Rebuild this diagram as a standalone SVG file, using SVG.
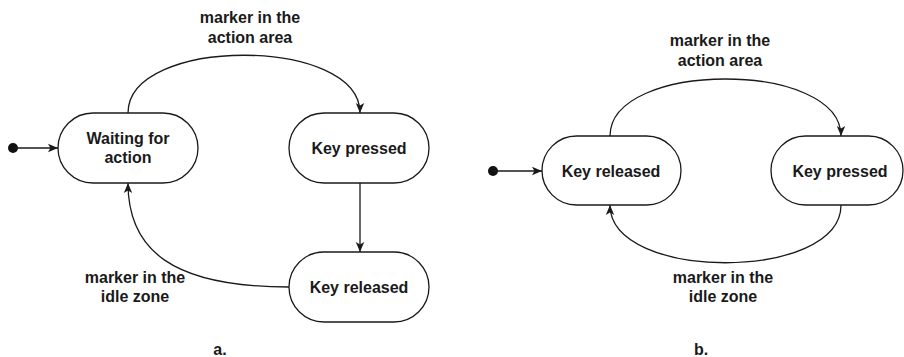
<svg xmlns="http://www.w3.org/2000/svg" width="904" height="357" viewBox="0 0 904 357">
  <defs>
    <style>
      .node rect { fill: #ffffff; stroke: #1a1a1a; stroke-width: 1.3; }
      .node text, .label, .caption { font-family: "Liberation Sans", Arial, sans-serif; font-size: 16px; font-weight: bold; fill: #1a1a1a; text-anchor: middle; }
      .edge { fill: none; stroke: #1a1a1a; stroke-width: 1.3; marker-end: url(#arrow); }
      .start { fill: #111111; }
    </style>
    <marker id="arrow" viewBox="0 0 10 10" refX="10" refY="5" markerWidth="10" markerHeight="10" markerUnits="userSpaceOnUse" orient="auto">
      <path d="M0,0.8 L10,5 L0,9.2 L2.4,5 Z" fill="#1a1a1a"/>
    </marker>
  </defs>
  <rect width="904" height="357" fill="#ffffff"/>

  <!-- a. state machine -->
  <g id="a-start"><circle class="start" cx="13" cy="148" r="5"/></g>
  <g id="a-waiting" class="node">
    <rect x="58" y="113" width="140" height="70" rx="35" ry="35"/>
    <text x="128" y="144">Waiting for</text>
    <text x="128" y="163">action</text>
  </g>
  <g id="a-pressed" class="node">
    <rect x="289" y="113" width="140" height="70" rx="35" ry="35"/>
    <text x="359" y="154">Key pressed</text>
  </g>
  <g id="a-released" class="node">
    <rect x="289" y="252" width="140" height="70" rx="35" ry="35"/>
    <text x="359" y="293">Key released</text>
  </g>

  <!-- b. state machine -->
  <g id="b-start"><circle class="start" cx="493" cy="171" r="5"/></g>
  <g id="b-released" class="node">
    <rect x="542" y="136" width="139" height="69" rx="34.5" ry="34.5"/>
    <text x="611" y="177">Key released</text>
  </g>
  <g id="b-pressed" class="node">
    <rect x="771" y="136" width="132" height="69" rx="34.5" ry="34.5"/>
    <text x="840" y="177">Key pressed</text>
  </g>

  <g id="connectors">
    <path class="edge" d="M13,148 L58,148"/>
    <path class="edge" d="M128,113 C128,36 360,36 360,113"/>
    <path class="edge" d="M360,183 L360,252"/>
    <path class="edge" d="M289,287 C172,287 128,250 128,183"/>

    <path class="edge" d="M493,171 L542,171"/>
    <path class="edge" d="M610,136 C610,60 841,60 841,136"/>
    <path class="edge" d="M841,205 C841,282 610,282 610,205"/>
  </g>

  <g id="labels">
    <text class="label" x="250" y="23">marker in the</text>
    <text class="label" x="250" y="43">action area</text>
    <text class="label" x="135" y="283">marker in the</text>
    <text class="label" x="135" y="302">idle zone</text>
    <text class="label" x="720" y="46">marker in the</text>
    <text class="label" x="720" y="66">action area</text>
    <text class="label" x="723" y="283">marker in the</text>
    <text class="label" x="723" y="302">idle zone</text>
    <text class="caption" x="220" y="355">a.</text>
    <text class="caption" x="701" y="355">b.</text>
  </g>
</svg>
